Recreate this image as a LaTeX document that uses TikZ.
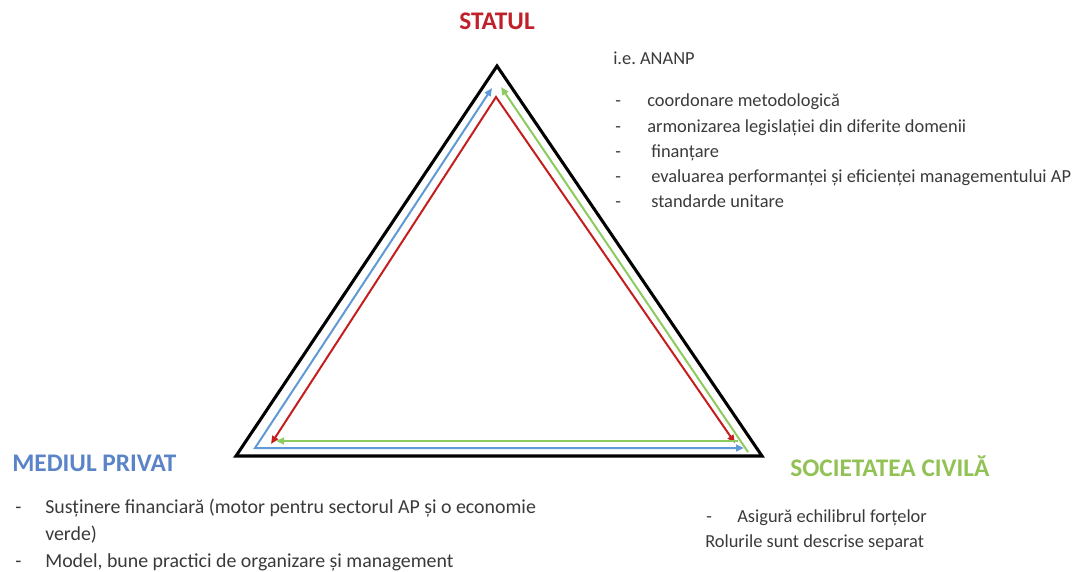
\documentclass[tikz,border=0pt]{standalone}
\usepackage{fontspec}
\setmainfont{Carlito}
\usetikzlibrary{arrows.meta}
\definecolor{txt}{HTML}{3A3A3A}
\definecolor{redc}{HTML}{C0202A}
\definecolor{bluec}{HTML}{5B84C8}
\definecolor{greenc}{HTML}{92C255}
\definecolor{redl}{HTML}{C41E1E}
\definecolor{bluel}{HTML}{5F9AD6}
\definecolor{greenl}{HTML}{8CCB5E}
\tikzset{
  title/.style={font=\fontsize{19}{21}\selectfont\bfseries, inner sep=0pt},
  body/.style={font=\fontsize{13.8}{16}\selectfont, text=txt, anchor=west, inner sep=0pt, text height=0.7em, text depth=0.2em, yshift=-2pt},
  bodyb/.style={font=\fontsize{14.9}{17}\selectfont, text=txt, anchor=west, inner sep=0pt, text height=0.7em, text depth=0.2em, yshift=-1.5pt},
  tri/.style={draw=black, line width=2.3pt, line join=miter},
  rel/.style={line width=1.5pt, arrows={-{Triangle[length=6pt,width=5pt]}}},
  relb/.style={line width=1.5pt, arrows={{Triangle[length=6pt,width=5pt]}-{Triangle[length=6pt,width=5pt]}}}
}
\begin{document}
\begin{tikzpicture}[x=0.75pt,y=-0.75pt]
\useasboundingbox (0,0) rectangle (1077,571);
% outer triangle
\coordinate (A) at (497,66);
\coordinate (B) at (236,456);
\coordinate (C) at (762,456);
\draw[tri] (A) -- (B) -- (C) -- cycle;
% blue arrows (from private sector)
\coordinate (bA) at (492,88);
\coordinate (bB) at (255,448);
\coordinate (bC) at (744,448);
\draw[relb, draw=bluel] (bA) -- (bB) -- (bC);
% red arrows (from the state)
\coordinate (rA) at (496,97);
\coordinate (rB) at (271,444);
\coordinate (rC) at (735,443);
\draw[relb, draw=redl] (rB) -- (rA) -- (rC);
% green arrows (from civil society)
\coordinate (gA) at (501,87);
\coordinate (gC) at (748,452);
\coordinate (gC2) at (738,441);
\coordinate (gB) at (276,441);
\draw[rel, draw=greenl] (gC) -- (gA);
\draw[rel, draw=greenl] (gC2) -- (gB);
% titles
\node[title, text=redc] (stat) at (497,21) {STATUL};
\node[title, text=bluec, anchor=west] (priv) at (12,463) {MEDIUL PRIVAT};
\node[title, text=greenc, anchor=west] (soc) at (790,466) {SOCIETATEA CIVILĂ};
% state roles
\node[body] (ie) at (613,58) {i.e.\ ANANP};
\node[body] (d1) at (615,100) {-};
\node[body] (t1) at (647,100) {coordonare metodologică};
\node[body] (d2) at (615,126) {-};
\node[body] (t2) at (647,126) {armonizarea legislației din diferite domenii};
\node[body] (d3) at (615,151) {-};
\node[body] (t3) at (651,151) {finanțare};
\node[body] (d4) at (615,176) {-};
\node[body] (t4) at (651,176) {evaluarea performanței și eficienței managementului AP};
\node[body] (d5) at (615,201) {-};
\node[body] (t5) at (651,201) {standarde unitare};
% private roles
\node[bodyb] (p1d) at (15,508) {-};
\node[bodyb] (p1) at (45,508) {Susținere financiară (motor pentru sectorul AP și o economie};
\node[bodyb] (p1b) at (45,535) {verde)};
\node[bodyb] (p2d) at (15,562) {-};
\node[bodyb] (p2) at (45,562) {Model, bune practici de organizare și management};
% civil society roles
\node[body] (s1d) at (706,516) {-};
\node[body] (s1) at (737,516) {Asigură echilibrul forțelor};
\node[body] (s2) at (705,541) {Rolurile sunt descrise separat};
\end{tikzpicture}
\end{document}
